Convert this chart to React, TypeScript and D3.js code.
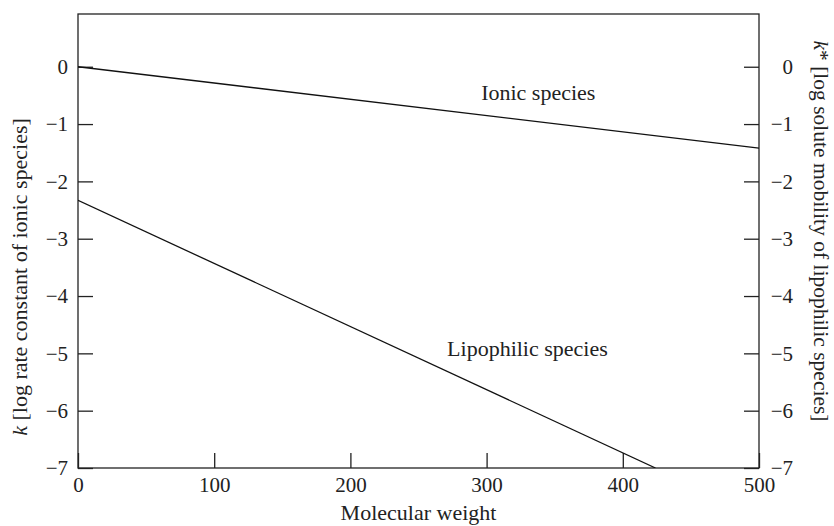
import * as d3 from 'd3'
import React, { useEffect, useRef } from 'react'

// values
const molWeight = [0, 424]
const lipophilic = [-2.33, -7]
const ionicWeight = [0, 500]
const ionic = [0, -1.42]
const xTicks = [0, 100, 200, 300, 400, 500]
const yTicks = [0, -1, -2, -3, -4, -5, -6, -7]
const labels = [
    { text: 'Ionic species', x: 296, y: -0.58 },
    { text: 'Lipophilic species', x: 271, y: -5.05 },
]

const App = (): JSX.Element => {
    const ref = useRef<SVGSVGElement>(null)
    const width = 834
    const height = 526
    const margin = { top: 14, right: 75, bottom: 58, left: 78 }
    const font = '"Liberation Serif", "Times New Roman", serif'

    useEffect(() => {
        const svg = d3.select(ref.current)
        svg.selectAll('*').remove()

        const xScale = d3
            .scaleLinear()
            .domain([0, 500])
            .range([margin.left, width - margin.right])
        const yScale = d3
            .scaleLinear()
            .domain([-7, 0.92])
            .range([height - margin.bottom, margin.top])

        svg.append('defs')
            .append('clipPath')
            .attr('id', 'plot-clip')
            .append('rect')
            .attr('x', margin.left)
            .attr('y', margin.top)
            .attr('width', width - margin.left - margin.right)
            .attr('height', height - margin.top - margin.bottom)

        const styleAxis = (g) => {
            g.select('.domain').remove()
            g.selectAll('line').attr('stroke', '#222').attr('stroke-width', 1.3)
            g.selectAll('text')
                .attr('fill', '#222')
                .style('font-family', font)
                .style('font-size', '21px')
        }

        // bottom axis
        svg.append('g')
            .attr('transform', `translate(0,${height - margin.bottom})`)
            .call(d3.axisBottom(xScale).tickValues(xTicks).tickSize(-15).tickPadding(9))
            .call(styleAxis)

        // left axis
        svg.append('g')
            .attr('transform', `translate(${margin.left},0)`)
            .call(d3.axisLeft(yScale).tickValues(yTicks).tickSize(-15).tickPadding(10))
            .call(styleAxis)

        // right axis
        svg.append('g')
            .attr('transform', `translate(${width - margin.right},0)`)
            .call(d3.axisRight(yScale).tickValues(yTicks).tickSize(-15).tickPadding(10))
            .call(styleAxis)
            .call((g) => g.selectAll('text').attr('x', 34).attr('text-anchor', 'end'))

        // frame
        svg.append('rect')
            .attr('x', margin.left)
            .attr('y', margin.top)
            .attr('width', width - margin.left - margin.right)
            .attr('height', height - margin.top - margin.bottom)
            .attr('fill', 'none')
            .attr('stroke', '#222')
            .attr('stroke-width', 1.3)

        const line = d3
            .line<[number, number]>()
            .x((d) => xScale(d[0]))
            .y((d) => yScale(d[1]))

        const series = [
            d3.zip(ionicWeight, ionic) as [number, number][],
            d3.zip(molWeight, lipophilic) as [number, number][],
        ]
        series.forEach((values) => {
            svg.append('path')
                .attr('d', line(values))
                .attr('fill', 'none')
                .attr('stroke', '#111')
                .attr('stroke-width', 1.3)
                .attr('clip-path', 'url(#plot-clip)')
        })

        labels.forEach((l) => {
            svg.append('text')
                .attr('x', xScale(l.x))
                .attr('y', yScale(l.y))
                .attr('fill', '#222')
                .style('font-family', font)
                .style('font-size', '22px')
                .text(l.text)
        })

        // axis titles
        svg.append('text')
            .attr('x', (margin.left + width - margin.right) / 2)
            .attr('y', 520)
            .attr('text-anchor', 'middle')
            .attr('fill', '#222')
            .style('font-family', font)
            .style('font-size', '22px')
            .text('Molecular weight')

        const leftTitle = svg
            .append('text')
            .attr('transform', 'translate(27,277) rotate(-90)')
            .attr('text-anchor', 'middle')
            .attr('fill', '#222')
            .style('font-family', font)
            .style('font-size', '22px')
        leftTitle.append('tspan').style('font-style', 'italic').text('k')
        leftTitle.append('tspan').text(' [log rate constant of ionic species]')

        const rightTitle = svg
            .append('text')
            .attr('transform', 'translate(814,231) rotate(90)')
            .attr('text-anchor', 'middle')
            .attr('fill', '#222')
            .style('font-family', font)
            .style('font-size', '21.5px')
        rightTitle.append('tspan').style('font-style', 'italic').text('k')
        rightTitle.append('tspan').text('* [log solute mobility of lipophilic species]')
    }, [])

    return (
        <svg
            ref={ref}
            width={width}
            height={height}
            style={{ position: 'absolute', left: 0, top: 0, background: '#fff' }}
        />
    )
}

export default App
